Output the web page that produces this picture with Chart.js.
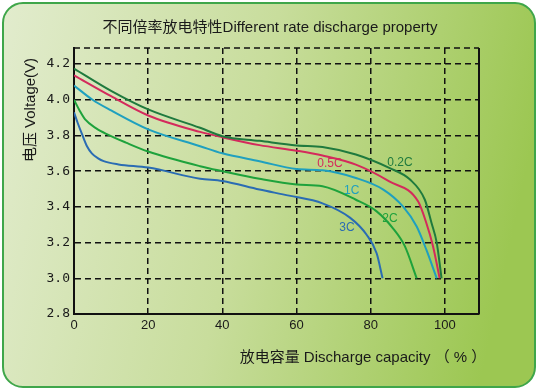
<!DOCTYPE html>
<html lang="zh">
<head>
  <meta charset="UTF-8">
  <title>Different rate discharge property</title>
  <script src="https://cdn.jsdelivr.net/npm/chart.js"></script>
  <style>
    body { margin: 0; background: #fff; }
  </style>
</head>
<body>
  <canvas id="dischargeChart" width="538" height="390"></canvas>
  <script>
    // Data (capacity %, voltage V)
    const cap02 = [0, 10, 20, 34, 40, 50, 60, 67, 76, 85, 90.6, 94.6, 96.4, 97.8, 99.1];
    const volt02 = [4.175, 4.05, 3.946, 3.843, 3.796, 3.77, 3.744, 3.735, 3.693, 3.618, 3.553, 3.44, 3.31, 3.2, 3.0];
    const cap05 = [0, 10, 20, 34, 40, 50, 60, 67, 76, 85, 92.8, 95, 96.8, 98.6];
    const volt05 = [4.137, 4.02, 3.912, 3.82, 3.79, 3.746, 3.715, 3.688, 3.637, 3.543, 3.43, 3.31, 3.18, 3.0];
    const cap1 = [0, 5, 10, 20, 34, 40, 50, 60, 67, 76, 83.4, 88.8, 92.4, 95, 97.8];
    const volt1 = [4.08, 4.0, 3.94, 3.834, 3.74, 3.70, 3.656, 3.612, 3.605, 3.562, 3.497, 3.40, 3.29, 3.16, 3.0];
    const cap2 = [0, 1.5, 3, 6, 9, 14, 20, 34, 40, 50, 60, 67, 76, 81.6, 86, 89.2, 92.4];
    const volt2 = [4.0, 3.94, 3.89, 3.84, 3.806, 3.76, 3.71, 3.628, 3.6, 3.557, 3.525, 3.515, 3.44, 3.375, 3.28, 3.18, 3.0];
    const cap3 = [0, 1, 2.3, 3.5, 4.8, 6.5, 8, 12, 20, 34, 40, 50, 58, 67, 74.4, 78.9, 81.6, 83.2];
    const volt3 = [3.93, 3.87, 3.80, 3.74, 3.70, 3.672, 3.656, 3.638, 3.62, 3.558, 3.545, 3.497, 3.463, 3.42, 3.34, 3.244, 3.14, 3.0];

    const seriesNames = ['0.2C', '0.5C', '1C', '2C', '3C'];
    const seriesColors = ['#1f7a3e', '#d42a5c', '#1fa0bf', '#1ea23c', '#2a6cb3'];
    // where each curve name sits (capacity %, voltage V)
    const labelCap = [87.9, 69, 74.9, 85.2, 73.6];
    const labelVolt = [3.648, 3.643, 3.491, 3.334, 3.283];

    const xTicks = [0, 20, 40, 60, 80, 100];
    const yTicks = [2.8, 3.0, 3.2, 3.4, 3.6, 3.8, 4.0, 4.2];

    const chartTitle = '不同倍率放电特性Different rate discharge property';
    const xTitle = '放电容量 Discharge capacity （ % ）';
    const yTitle = '电压 Voltage(V)';

    const caps = [cap02, cap05, cap1, cap2, cap3];
    const volts = [volt02, volt05, volt1, volt2, volt3];

    const textFont = '"Liberation Sans", "Noto Sans CJK SC", sans-serif';

    // green rounded panel behind everything
    const panelPlugin = {
      id: 'panel',
      beforeDraw(chart) {
        const { ctx, width, height } = chart;
        ctx.save();
        const g = ctx.createLinearGradient(0, 0, width, height * 0.3);
        g.addColorStop(0, '#e2ecce');
        g.addColorStop(0.5, '#c8dd9c');
        g.addColorStop(1, '#9cc752');
        ctx.fillStyle = g;
        ctx.strokeStyle = '#3fa64a';
        ctx.lineWidth = 2;
        ctx.beginPath();
        ctx.roundRect(3, 3, width - 6, height - 6, 20);
        ctx.fill();
        ctx.stroke();
        ctx.restore();
      },
    };

    // titles, frame top/right and curve names
    const textPlugin = {
      id: 'texts',
      afterDraw(chart) {
        const { ctx, chartArea, scales } = chart;
        const { left, right, top, bottom } = chartArea;
        ctx.save();

        // dashed top frame, solid right frame
        ctx.strokeStyle = '#111';
        ctx.lineWidth = 1.4;
        ctx.setLineDash([6, 4]);
        ctx.beginPath();
        ctx.moveTo(left, top);
        ctx.lineTo(right, top);
        ctx.stroke();
        ctx.setLineDash([]);
        ctx.lineWidth = 2;
        ctx.beginPath();
        ctx.moveTo(right, top);
        ctx.lineTo(right, bottom);
        ctx.stroke();

        ctx.fillStyle = '#1a1a1a';
        ctx.textAlign = 'center';
        ctx.textBaseline = 'middle';
        ctx.font = '15px ' + textFont;
        ctx.fillText(chartTitle, 270, 28);
        ctx.fillText(xTitle, 363, 358);

        ctx.save();
        ctx.translate(31, 110);
        ctx.rotate(-Math.PI / 2);
        ctx.fillText(yTitle, 0, 0);
        ctx.restore();

        ctx.font = '12px ' + textFont;
        seriesNames.forEach((name, i) => {
          ctx.fillStyle = seriesColors[i];
          ctx.fillText(name, scales.x.getPixelForValue(labelCap[i]), scales.y.getPixelForValue(labelVolt[i]));
        });
        ctx.restore();
      },
    };

    const datasets = seriesNames.map((name, i) => ({
      label: name,
      data: caps[i].map((c, j) => ({ x: c, y: volts[i][j] })),
      borderColor: seriesColors[i],
      borderWidth: 2,
      pointRadius: 0,
      cubicInterpolationMode: 'monotone',
      fill: false,
    }));

    const gridOpts = { color: '#111', lineWidth: 1.5, drawTicks: false };

    new Chart(document.getElementById('dischargeChart'), {
      type: 'line',
      data: { datasets },
      options: {
        responsive: false,
        animation: false,
        layout: { padding: { left: 0, top: 48, right: 59, bottom: 0 } },
        plugins: { legend: { display: false }, tooltip: { enabled: false } },
        scales: {
          x: {
            type: 'linear',
            min: 0,
            max: 109.2,
            afterBuildTicks: (s) => { s.ticks = xTicks.map(v => ({ value: v })); },
            afterFit: (s) => { s.height = 76; },
            grid: gridOpts,
            border: { display: true, color: '#111', width: 2, dash: [6, 4] },
            ticks: { color: '#1a1a1a', padding: 4, font: { family: textFont, size: 13 } },
          },
          y: {
            type: 'linear',
            min: 2.8,
            max: 4.29,
            afterBuildTicks: (s) => { s.ticks = yTicks.map(v => ({ value: v })); },
            afterFit: (s) => { s.width = 74; },
            grid: gridOpts,
            border: { display: true, color: '#111', width: 2, dash: [6, 4] },
            ticks: {
              color: '#1a1a1a',
              padding: 4,
              font: { family: '"DejaVu Sans Mono", monospace', size: 13 },
              callback: (v) => v.toFixed(1),
            },
          },
        },
      },
      plugins: [panelPlugin, textPlugin],
    });
  </script>
</body>
</html>
